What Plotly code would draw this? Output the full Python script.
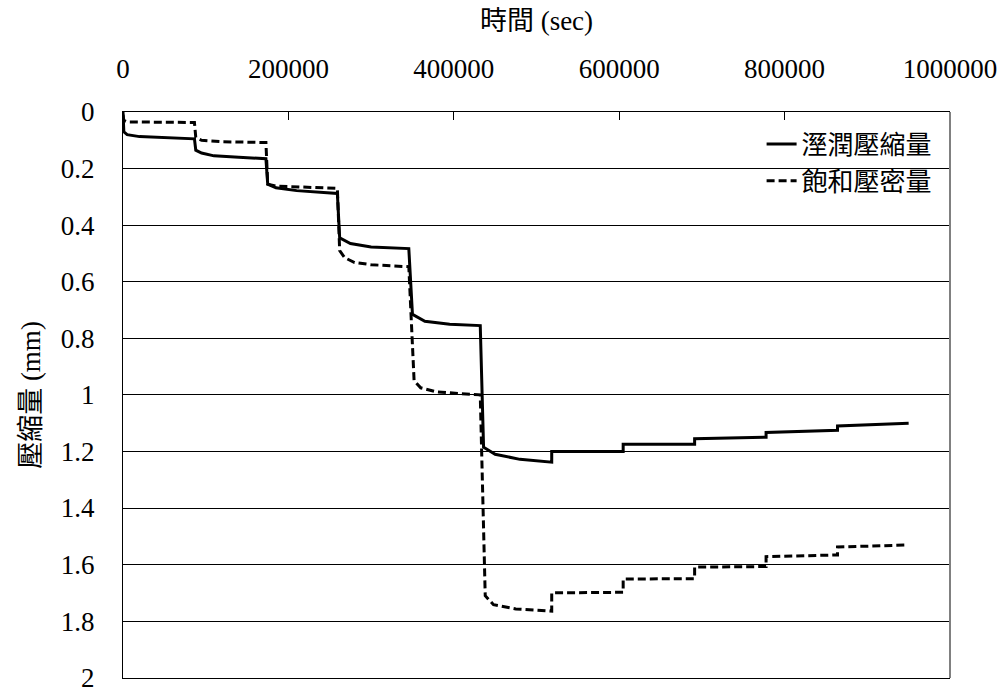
import plotly.graph_objects as go

# ---- data (time in sec, compression in mm) ----
time_wet = [0, 1000, 5000, 20000, 86400,
            86400, 88000, 95000, 110000, 140000, 172800,
            172800, 175000, 185000, 210000, 259200,
            259200, 262000, 275000, 300000, 345600,
            345600, 350000, 365000, 395000, 432000,
            432000, 436000, 450000, 480000, 518400,
            518400, 604800,
            604800, 691200,
            691200, 777600,
            777600, 864000,
            864000, 950000]
wet_comp = [0.0, 0.07, 0.08, 0.087, 0.095,
            0.095, 0.135, 0.145, 0.155, 0.16, 0.165,
            0.165, 0.255, 0.268, 0.278, 0.288,
            0.288, 0.445, 0.465, 0.477, 0.483,
            0.483, 0.715, 0.74, 0.75, 0.755,
            0.755, 1.185, 1.21, 1.228, 1.238,
            1.2, 1.2,
            1.175, 1.175,
            1.155, 1.15,
            1.133, 1.125,
            1.11, 1.10]

time_sat = [0, 1000, 5000, 86400,
            86400, 88000, 95000, 120000, 172800,
            172800, 175000, 185000, 259200,
            259200, 262000, 268000, 280000, 300000, 345600,
            345600, 352000, 360000, 380000, 432000,
            432000, 438000, 448000, 475000, 518400,
            518400, 604800,
            604800, 691200,
            691200, 777600,
            777600, 864000,
            864000, 945000]
sat_comp = [0.01, 0.03, 0.035, 0.037,
            0.037, 0.09, 0.10, 0.105, 0.108,
            0.108, 0.255, 0.262, 0.27,
            0.27, 0.49, 0.515, 0.532, 0.54, 0.547,
            0.547, 0.95, 0.975, 0.99, 1.0,
            1.0, 1.71, 1.742, 1.757, 1.765,
            1.70, 1.698,
            1.651, 1.65,
            1.609, 1.607,
            1.572, 1.566,
            1.538, 1.531]

series_names = ["溼潤壓縮量", "飽和壓密量"]
x_ticks = [0, 200000, 400000, 600000, 800000, 1000000]
y_ticks = [0, 0.2, 0.4, 0.6, 0.8, 1, 1.2, 1.4, 1.6, 1.8, 2]
y_tick_text = ["0", "0.2", "0.4", "0.6", "0.8", "1", "1.2", "1.4", "1.6", "1.8", "2"]

FONT = "Liberation Serif, Times New Roman, Noto Sans CJK TC, serif"

fig = go.Figure()
fig.add_trace(go.Scatter(x=time_wet, y=wet_comp, mode="lines", name=series_names[0],
                         line=dict(color="black", width=3)))
fig.add_trace(go.Scatter(x=time_sat, y=sat_comp, mode="lines", name=series_names[1],
                         line=dict(color="black", width=3, dash="8px,4px")))

fig.update_layout(
    width=1008, height=693,
    margin=dict(l=123, r=58, t=112, b=15, autoexpand=False),
    paper_bgcolor="white", plot_bgcolor="white",
    font=dict(family=FONT, color="black", size=26),
    showlegend=True,
    legend=dict(x=0.985, y=0.985, xanchor="right", yanchor="top",
                bgcolor="rgba(0,0,0,0)", borderwidth=0,
                font=dict(size=26, family="Noto Sans CJK TC, serif"),
                tracegroupgap=0),
)

fig.update_xaxes(
    side="top", range=[0, 1000000], tickvals=x_ticks,
    ticktext=[str(v) for v in x_ticks],
    ticks="inside", ticklen=8, tickcolor="black", tickwidth=1,
    showline=True, linecolor="black", linewidth=1, mirror=True,
    showgrid=False, zeroline=False,
    tickfont=dict(size=27, family=FONT),
    ticklabelstandoff=22,
    title=dict(text="時間 (sec)", font=dict(size=27, family=FONT), standoff=15),
    automargin=False,
)
fig.update_yaxes(
    range=[2.001, 0], tickvals=y_ticks, ticktext=y_tick_text,
    ticks="", showline=True, linecolor="black", linewidth=1,
    showgrid=True, gridcolor="black", gridwidth=1, zeroline=False,
    tickfont=dict(size=27, family=FONT),
    ticklabelstandoff=22, ticklabeloverflow="allow",
    title=dict(text="壓縮量 (mm)", font=dict(size=27, family=FONT), standoff=12),
    automargin=False,
)

# right plot border (grey)
fig.add_shape(type="line", xref="paper", yref="paper", x0=1, x1=1, y0=0, y1=1,
              line=dict(color="#808080", width=2))

fig.write_html("out.html")
